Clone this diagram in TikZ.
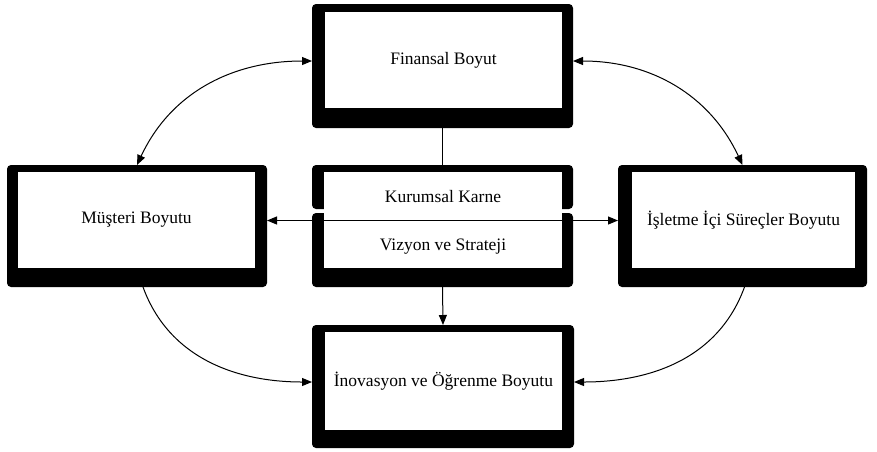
\documentclass[tikz,border=0pt]{standalone}
\usepackage{fontspec}
\setmainfont{Liberation Serif}
\usetikzlibrary{arrows.meta,calc}
\begin{document}
\begin{tikzpicture}[x=1pt,y=1pt,
  frame/.style={fill=black, draw=none, rounded corners=4pt, inner sep=0pt, outer sep=0pt},
  inner/.style={fill=white, draw=none, inner sep=0pt, outer sep=0pt},
  lbl/.style={inner sep=1pt, font=\fontsize{17.5}{20}\selectfont},
  conn/.style={line width=1pt},
  tip/.style={-{Triangle[length=10pt,width=8pt]}},
  tips/.style={{Triangle[length=10pt,width=8pt]}-{Triangle[length=10pt,width=8pt]}}]
\useasboundingbox (0,0) rectangle (877,-451);

% Finansal Boyut
\node[frame, minimum width=261pt, minimum height=124pt] (F) at (442.5,-66) {};
\node[inner, minimum width=237pt, minimum height=96pt] (Fi) at (443.5,-60) {};
\node[lbl] (Ft) at (Fi.center) {Finansal Boyut};

% Kurumsal Karne / Vizyon ve Strateji
\node[frame, minimum width=261pt, minimum height=44pt] (Ka) at (442.5,-187) {};
\node[frame, minimum width=261pt, minimum height=74pt] (Kb) at (442.5,-250) {};
\node[inner, minimum width=238pt, minimum height=96pt] (Ki) at (443,-220) {};
\node[lbl] (Kt1) at (443,-197) {Kurumsal Karne};
\node[lbl] (Kt2) at (443,-247) {Vizyon ve Strateji};

% Musteri Boyutu
\node[frame, minimum width=260pt, minimum height=122pt] (M) at (137,-226) {};
\node[inner, minimum width=237pt, minimum height=96pt] (Mi) at (136.5,-220) {};
\node[lbl] (Mt) at (Mi.center) {Müşteri Boyutu};

% Isletme Ici Surecler Boyutu
\node[frame, minimum width=249pt, minimum height=122pt] (I) at (742.5,-226) {};
\node[inner, minimum width=223pt, minimum height=96pt] (Ii) at (743.5,-220) {};
\node[lbl] (It) at (Ii.center) {İşletme İçi Süreçler Boyutu};

% Inovasyon ve Ogrenme Boyutu
\node[frame, minimum width=262pt, minimum height=123pt] (N) at (443,-386.5) {};
\node[inner, minimum width=237pt, minimum height=98pt] (Ni) at (443.5,-381) {};
\node[lbl] (Nt) at (Ni.center) {İnovasyon ve Öğrenme Boyutu};

% connectors
\draw[conn] (F.south) -- (Ka.north);
\draw[conn,tip] (Kb.south) -- (N.north);
\draw[conn,tips] ([yshift=5.5pt]M.east) -- ([yshift=5.5pt]I.west);
\draw[conn,tips] ([yshift=5pt]F.west) to[out=180,in=65] (M.north);
\draw[conn,tips] ([yshift=5pt]F.east) to[out=0,in=115] (I.north);
\draw[conn,tip] ([xshift=6pt]M.south) to[out=-70,in=180] ([yshift=4.5pt]N.west);
\draw[conn,tip] ([xshift=2pt]I.south) to[out=-110,in=0] ([yshift=4.5pt]N.east);
\end{tikzpicture}
\end{document}
